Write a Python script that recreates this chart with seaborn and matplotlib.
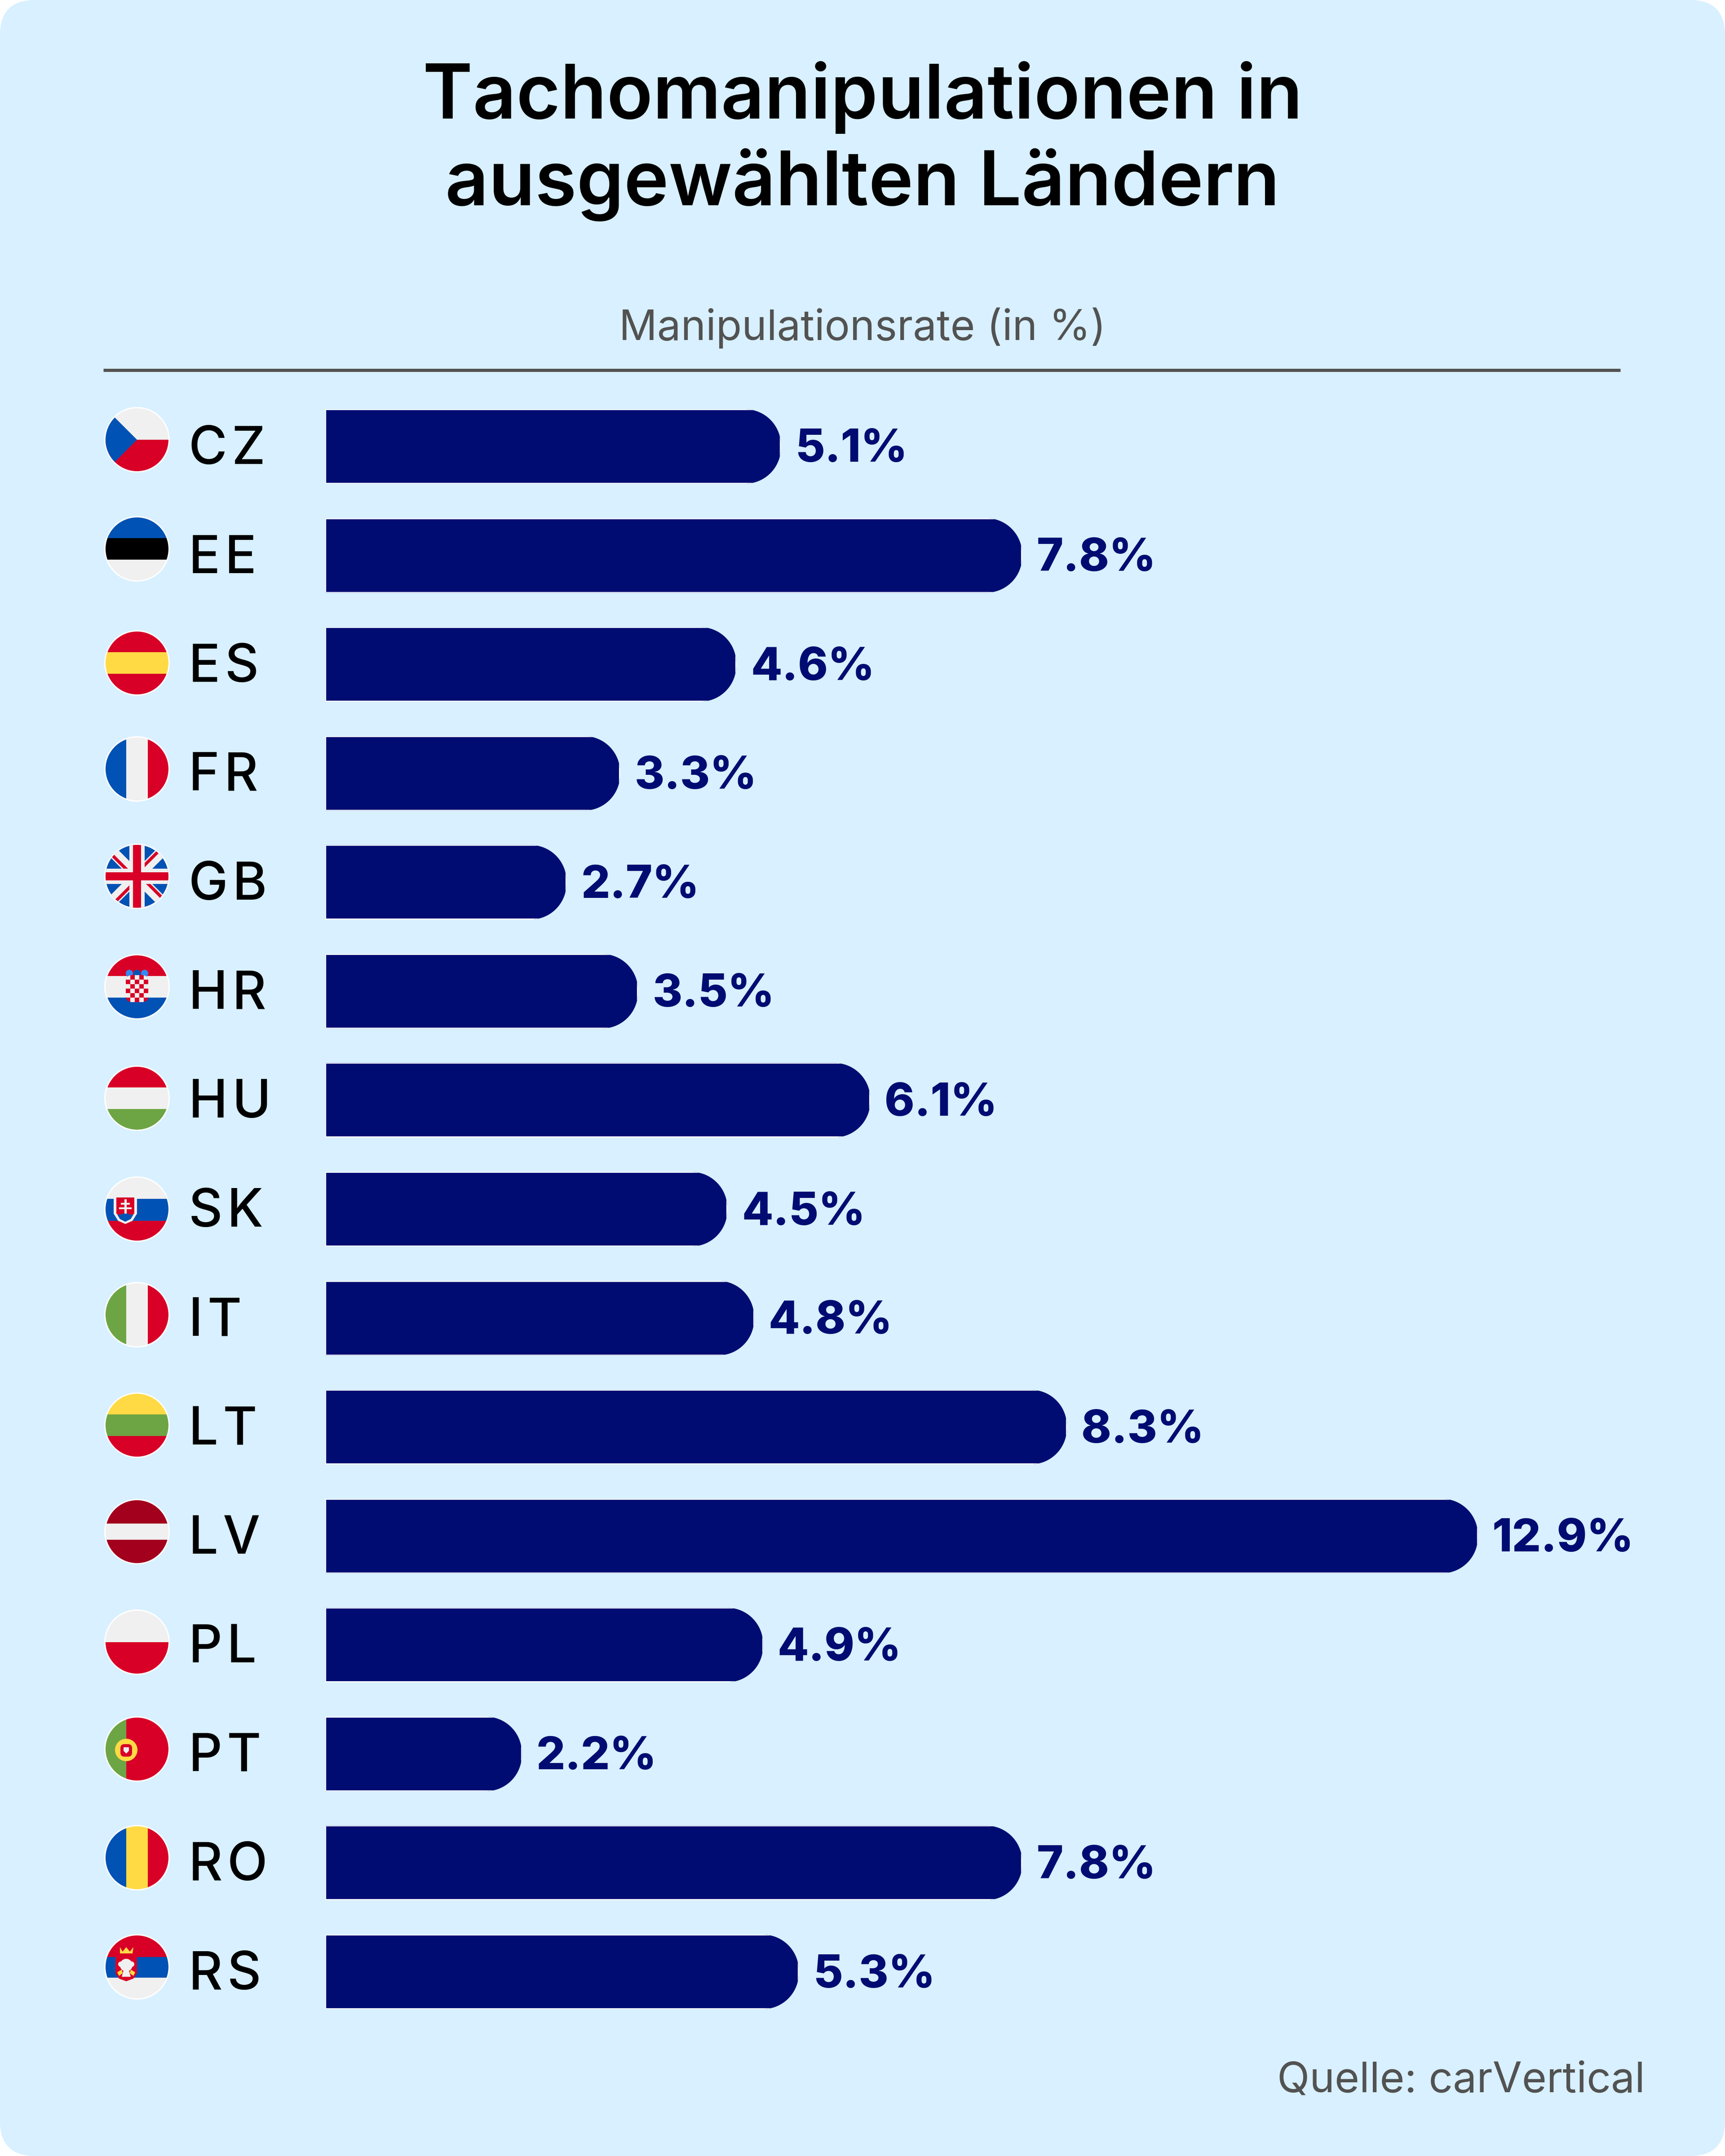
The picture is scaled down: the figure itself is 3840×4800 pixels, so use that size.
import matplotlib
matplotlib.use("Agg")
import matplotlib.pyplot as plt
import matplotlib.patches as mpatches
from matplotlib.path import Path
from matplotlib.transforms import IdentityTransform, ScaledTranslation
import numpy as np
import pandas as pd
import seaborn as sns

COUNTRIES = ['CZ', 'EE', 'ES', 'FR', 'GB', 'HR', 'HU', 'SK', 'IT', 'LT', 'LV', 'PL', 'PT', 'RO', 'RS']
RATES = [5.1, 7.8, 4.6, 3.3, 2.7, 3.5, 6.1, 4.5, 4.8, 8.3, 12.9, 4.9, 2.2, 7.8, 5.3]
FLAG_Y = [979, 1222, 1476, 1712, 1951, 2197, 2445, 2692, 2927, 3173, 3410, 3656, 3894, 4136, 4379]

TITLE = "Tachomanipulationen in\nausgewählten Ländern"
SUBTITLE = "Manipulationsrate (in %)"
SOURCE = "Quelle: carVertical"

BG = '#D8F0FF'
NAVY = '#000C72'
GREY = '#525252'
RED = '#D80027'
BLUE = '#0052B4'
YELLOW = '#FFDA44'
GREEN = '#6DA544'
LIGHT = '#F0F0F0'
MAROON = '#A2001D'

W, H = 3840, 4800
PX = 72 / 300  # one output pixel in points

sns.set_theme(style="white")
plt.rcParams['font.family'] = ['Inter', 'DejaVu Sans']

fig = plt.figure(figsize=(12.8, 16), dpi=300, facecolor='white')

# pixel canvas for the card, flags and rule
deco = fig.add_axes([0, 0, 1, 1], zorder=0)
deco.set_xlim(0, W)
deco.set_ylim(H, 0)
deco.set_axis_off()
deco.add_patch(mpatches.FancyBboxPatch((0, 0), W, H, boxstyle="round,pad=0,rounding_size=78",
                                       fc=BG, ec='none', mutation_aspect=1))


def rect(c, x0, y0, w, h, color, clip):
    p = mpatches.Rectangle((c[0] + x0, c[1] + y0), w, h, fc=color, ec='none', zorder=3)
    deco.add_patch(p)
    p.set_clip_path(clip)
    return p


def poly(c, pts, color, clip=None, zorder=3):
    p = mpatches.Polygon([(c[0] + x, c[1] + y) for x, y in pts], closed=True, fc=color, ec='none', zorder=zorder)
    deco.add_patch(p)
    if clip is not None:
        p.set_clip_path(clip)
    return p


def dot(c, x, y, r, color, clip=None, zorder=4):
    p = mpatches.Circle((c[0] + x, c[1] + y), r, fc=color, ec='none', zorder=zorder)
    deco.add_patch(p)
    if clip is not None:
        p.set_clip_path(clip)
    return p


def hstripes(c, colors, clip, a=-24, b=24):
    rect(c, -80, -80, 160, 80 + a, colors[0], clip)
    rect(c, -80, a, 160, b - a, colors[1], clip)
    rect(c, -80, b, 160, 80 - b, colors[2], clip)


def vstripes(c, colors, clip):
    rect(c, -80, -80, 56, 160, colors[0], clip)
    rect(c, -24, -80, 48, 160, colors[1], clip)
    rect(c, 24, -80, 56, 160, colors[2], clip)


def draw_flag(code, c):
    deco.add_patch(mpatches.Circle(c, 73, fc='white', ec='none', zorder=2))
    clip = mpatches.Circle(c, 70, fc='none', ec='none', zorder=2)
    deco.add_patch(clip)

    if code == 'CZ':
        rect(c, -80, -80, 160, 80, LIGHT, clip)
        rect(c, -80, 0, 160, 80, RED, clip)
        poly(c, [(0, 0), (-80, -80), (-80, 80)], BLUE, clip)
    elif code == 'EE':
        hstripes(c, [BLUE, 'black', LIGHT], clip)
    elif code == 'ES':
        hstripes(c, [RED, YELLOW, RED], clip)
    elif code == 'FR':
        vstripes(c, [BLUE, LIGHT, RED], clip)
    elif code == 'GB':
        rect(c, -80, -80, 160, 160, BLUE, clip)
        for sx, sy in [(1, 1), (1, -1)]:
            ln, = deco.plot([c[0] - 80 * sx, c[0] + 80 * sx], [c[1] - 80 * sy, c[1] + 80 * sy],
                            color=LIGHT, lw=24 * PX, zorder=3, solid_capstyle='butt')
            ln.set_clip_path(clip)
        for x0, y0, x1, y1 in [(-68, -60, -8, 0), (60, -68, 0, -8), (-60, 68, 0, 8), (68, 60, 8, 0)]:
            ln, = deco.plot([c[0] + x0, c[0] + x1], [c[1] + y0, c[1] + y1],
                            color=RED, lw=7 * PX, zorder=3, solid_capstyle='butt')
            ln.set_clip_path(clip)
        rect(c, -17, -80, 34, 160, LIGHT, clip)
        rect(c, -80, -17, 160, 34, LIGHT, clip)
        rect(c, -9, -80, 18, 160, RED, clip)
        rect(c, -80, -9, 160, 18, RED, clip)
    elif code == 'HR':
        hstripes(c, [RED, LIGHT, BLUE], clip)
        for x in (-17, 0, 17):
            dot(c, x, -30, 8, '#338AF3' if x else BLUE)
        shield = mpatches.FancyBboxPatch((c[0] - 25, c[1] - 26), 50, 60, boxstyle="round,pad=0,rounding_size=14",
                                         fc=RED, ec='none', zorder=4)
        deco.add_patch(shield)
        for i in range(6):
            for j in range(5):
                if (i + j) % 2 == 0:
                    cell = mpatches.Rectangle((c[0] - 25 + j * 10, c[1] - 26 + i * 10), 10, 10,
                                              fc=LIGHT, ec='none', zorder=5)
                    deco.add_patch(cell)
                    cell.set_clip_path(shield)
    elif code == 'HU':
        hstripes(c, [RED, LIGHT, GREEN], clip)
    elif code == 'SK':
        hstripes(c, [LIGHT, BLUE, RED], clip, a=-23, b=26)
        poly(c, [(-52, -30), (0, -30), (0, 10), (-10, 26), (-26, 33), (-42, 26), (-52, 10)], LIGHT, zorder=4)
        poly(c, [(-46, -26), (-6, -26), (-6, 10), (-16, 16), (-26, 12), (-36, 16), (-46, 10)], RED, zorder=5)
        poly(c, [(-44, 12), (-36, 12), (-26, 8), (-16, 12), (-8, 12), (-14, 22), (-26, 28), (-38, 22)], BLUE, zorder=5)
        rect(c, -28.5, -22, 5, 32, LIGHT, clip).set_zorder(6)
        rect(c, -36, -14, 20, 4, LIGHT, clip).set_zorder(6)
        rect(c, -40, -4, 28, 4, LIGHT, clip).set_zorder(6)
    elif code == 'IT':
        vstripes(c, [GREEN, LIGHT, RED], clip)
    elif code == 'LT':
        hstripes(c, [YELLOW, GREEN, RED], clip)
    elif code == 'LV':
        hstripes(c, [MAROON, LIGHT, MAROON], clip, a=-18, b=18)
    elif code == 'PL':
        rect(c, -80, -80, 160, 80, LIGHT, clip)
        rect(c, -80, 0, 160, 80, RED, clip)
    elif code == 'PT':
        rect(c, -80, -80, 56, 160, GREEN, clip)
        rect(c, -24, -80, 104, 160, RED, clip)
        dot(c, -24, 2, 25, YELLOW)
        mid = mpatches.FancyBboxPatch((c[0] - 37, c[1] - 11), 26, 28, boxstyle="round,pad=0,rounding_size=9",
                                      fc=RED, ec='none', zorder=5)
        deco.add_patch(mid)
        poly(c, [(-30, -4), (-18, -4), (-18, 4), (-24, 10), (-30, 4)], LIGHT, zorder=6)
    elif code == 'RO':
        vstripes(c, [BLUE, YELLOW, RED], clip)
    elif code == 'RS':
        hstripes(c, [RED, BLUE, LIGHT], clip, a=-22, b=24)
        poly(c, [(-48, -28), (0, -28), (0, 14), (-8, 26), (-24, 32), (-40, 26), (-48, 14)], RED, zorder=4)
        poly(c, [(-38, -44), (-32, -34), (-24, -44), (-16, -34), (-8, -44), (-10, -30), (-38, -30)], YELLOW, zorder=5)
        dot(c, -24, -4, 14, LIGHT, zorder=5)
        dot(c, -36, -6, 6, LIGHT, zorder=5)
        dot(c, -12, -6, 6, LIGHT, zorder=5)
        poly(c, [(-30, 8), (-18, 8), (-14, 22), (-34, 22)], LIGHT, zorder=5)
        poly(c, [(-44, 12), (-34, 6), (-32, 14), (-40, 20)], YELLOW, zorder=5)
        poly(c, [(-4, 12), (-14, 6), (-16, 14), (-8, 20)], YELLOW, zorder=5)


def round_end(x0, y0, x1, y1, r):
    """Polyline outline with circular corners on the right end only."""
    a = np.linspace(-np.pi / 2, 0, 60)
    low = np.column_stack([x1 - r + r * np.cos(a), y0 + r + r * np.sin(a)])
    high = np.column_stack([x1 - r + r * np.cos(a[::-1]), y1 - r - r * np.sin(a[::-1])])
    return Path(np.vstack([[(x0, y0)], low, high, [(x0, y1)], [(x0, y0)]]), closed=True)


for code, y in zip(COUNTRIES, FLAG_Y):
    draw_flag(code, (305, y))

# bars
ax = fig.add_axes([724 / W, 1 - 4511.3 / H, 2880 / W, (4511.3 - 872.7) / H], zorder=1)
ax.patch.set_visible(False)
df = pd.DataFrame({'country': COUNTRIES, 'rate': RATES})
sns.barplot(data=df, x='rate', y='country', color=NAVY, saturation=1, width=0.684, ax=ax)
ax.set_xlim(0, 2880 / 198.9)
ax.set_ylim(14.5, -0.5)
ax.set_xlabel('')
ax.set_ylabel('')
ax.set_xticks([])
sns.despine(ax=ax, left=True, bottom=True)

# country codes are set with a little tracking, left aligned
ax.set_yticks(range(len(COUNTRIES)), ['\u200a'.join(c) for c in COUNTRIES])
ax.tick_params(axis='y', length=0, pad=304 * PX)
nudge = ScaledTranslation(0, 4 / 300, fig.dpi_scale_trans)
for lab in ax.get_yticklabels():
    lab.set_ha('left')
    lab.set_fontsize(117 * PX)
    lab.set_fontweight(500)
    lab.set_color('black')
    lab.set_transform(lab.get_transform() + nudge)

# rounded bar ends
fig.canvas.draw()
for bar in ax.containers[0]:
    ext = bar.get_window_extent()
    bar.set_clip_path(round_end(ext.x0 - 5, ext.y0, ext.x1, ext.y1, 80), IdentityTransform())

labels = ax.bar_label(ax.containers[0], fmt='%.1f%%', padding=32 * PX, color=NAVY,
                      fontsize=101 * PX, fontweight=800)
for t in labels:
    t.xyann = (t.xyann[0], -8 * PX)

# title, axis caption, rule, source
deco.text(W / 2, 136, TITLE, ha='center', va='top', fontsize=168.5 * PX, fontweight=600,
          color='black', linespacing=1.25)
deco.text(W / 2, 757, SUBTITLE, ha='center', va='baseline', fontsize=94 * PX, color=GREY)
deco.plot([230, 3607], [824, 824], color=GREY, lw=7 * PX, solid_capstyle='butt', zorder=2)
deco.text(3662, 4658, SOURCE, ha='right', va='baseline', fontsize=94.5 * PX, color=GREY)

fig.savefig('out.png', dpi=300, facecolor='white')
